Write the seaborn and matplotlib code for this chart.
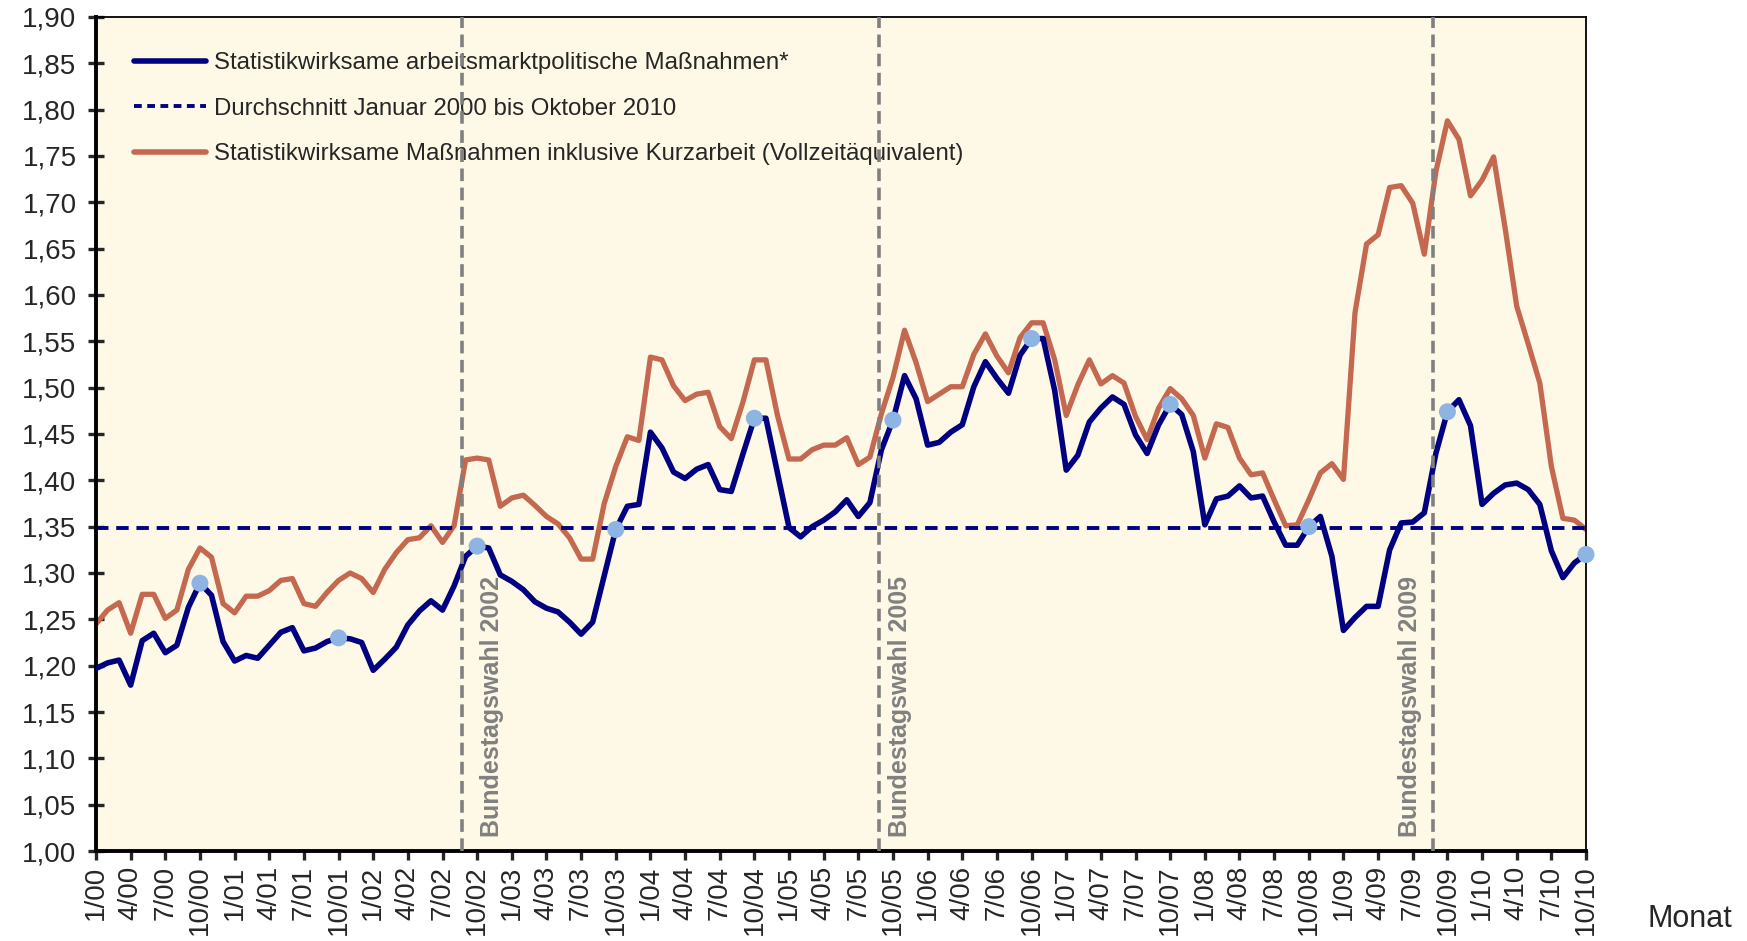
import numpy as np
import pandas as pd
import matplotlib
matplotlib.use("Agg")
import matplotlib.pyplot as plt
from matplotlib.ticker import MultipleLocator, FuncFormatter
from matplotlib.lines import Line2D
import seaborn as sns

# Monthly values Jan 2000 .. Oct 2010 (130 months)
massnahmen = [
    1.197, 1.203, 1.206, 1.179, 1.227, 1.235, 1.214, 1.222, 1.263, 1.289, 1.276, 1.226,
    1.205, 1.211, 1.208, 1.222, 1.236, 1.241, 1.216, 1.219, 1.226, 1.230, 1.229, 1.225,
    1.195, 1.207, 1.220, 1.244, 1.259, 1.270, 1.260, 1.286, 1.318, 1.329, 1.327, 1.298,
    1.291, 1.282, 1.269, 1.262, 1.258, 1.247, 1.234, 1.247, 1.297, 1.347, 1.372, 1.374,
    1.452, 1.435, 1.409, 1.402, 1.412, 1.417, 1.390, 1.388, 1.428, 1.467, 1.467, 1.408,
    1.349, 1.339, 1.350, 1.357, 1.366, 1.379, 1.361, 1.376, 1.433, 1.465, 1.513, 1.488,
    1.438, 1.441, 1.452, 1.460, 1.501, 1.528, 1.510, 1.494, 1.535, 1.553, 1.553, 1.497,
    1.411, 1.427, 1.463, 1.478, 1.490, 1.482, 1.449, 1.429, 1.460, 1.482, 1.471, 1.431,
    1.352, 1.380, 1.383, 1.394, 1.381, 1.383, 1.355, 1.330, 1.330, 1.350, 1.361, 1.318,
    1.238, 1.252, 1.264, 1.264, 1.325, 1.354, 1.355, 1.365, 1.429, 1.474, 1.487, 1.459,
    1.374, 1.386, 1.395, 1.397, 1.390, 1.374, 1.324, 1.295, 1.311, 1.320,
]
inkl_kurzarbeit = [
    1.245, 1.260, 1.268, 1.235, 1.277, 1.277, 1.251, 1.260, 1.304, 1.327, 1.317, 1.267,
    1.257, 1.275, 1.275, 1.281, 1.292, 1.294, 1.267, 1.264, 1.279, 1.292, 1.300, 1.294,
    1.279, 1.304, 1.322, 1.336, 1.338, 1.351, 1.333, 1.351, 1.422, 1.424, 1.422, 1.372,
    1.381, 1.384, 1.373, 1.361, 1.353, 1.338, 1.315, 1.315, 1.375, 1.415, 1.447, 1.443,
    1.533, 1.530, 1.502, 1.486, 1.493, 1.495, 1.458, 1.445, 1.484, 1.530, 1.530, 1.470,
    1.423, 1.423, 1.433, 1.438, 1.438, 1.446, 1.417, 1.425, 1.472, 1.511, 1.562, 1.527,
    1.485, 1.493, 1.501, 1.501, 1.536, 1.558, 1.534, 1.516, 1.554, 1.570, 1.570, 1.530,
    1.470, 1.503, 1.530, 1.504, 1.513, 1.505, 1.469, 1.444, 1.478, 1.499, 1.488, 1.470,
    1.424, 1.461, 1.457, 1.424, 1.406, 1.408, 1.379, 1.351, 1.352, 1.379, 1.408, 1.418,
    1.401, 1.581, 1.655, 1.665, 1.716, 1.718, 1.699, 1.644, 1.733, 1.788, 1.768, 1.707,
    1.724, 1.749, 1.672, 1.588, 1.547, 1.505, 1.415, 1.359, 1.357, 1.347,
]
durchschnitt = 1.349

years = list(range(0, 11))
tick_labels = [f"{m}/{y:02d}" for y in years for m in (1, 4, 7, 10)][:44]

# elections: line position (month index), label, text position
wahlen = [(31.7, "Bundestagswahl 2002"), (67.75, "Bundestagswahl 2005"), (115.75, "Bundestagswahl 2009")]
wahl_text_x = [34.3, 69.6, 113.8]

df = pd.DataFrame({
    "monat": np.arange(len(massnahmen)),
    "massnahmen": massnahmen,
    "kurzarbeit": inkl_kurzarbeit,
})
oktober = df[df["monat"] % 12 == 9]

sns.set_style("white")
plt.rcParams['font.family'] = ['Liberation Sans', 'DejaVu Sans']

navy = "#000080"
orange = "#C4694F"
fig = plt.figure(figsize=(17.47, 9.41), dpi=100)
ax = fig.add_axes([0.05495, 0.09564, 0.8529, 0.8863])
ax.set_facecolor("#FEF8E6")

sns.lineplot(data=df, x="monat", y="kurzarbeit", color=orange, linewidth=3.8, ax=ax, zorder=2)
ax.axhline(durchschnitt, color=navy, linewidth=2.8, dashes=(3.2, 2.0), zorder=2.5)
sns.lineplot(data=df, x="monat", y="massnahmen", color=navy, linewidth=4.0, ax=ax, zorder=3)
sns.scatterplot(data=oktober, x="monat", y="massnahmen", color="#8DB4E2", s=150,
                edgecolor="none", ax=ax, zorder=4, clip_on=False)

for (pos, lab), tx in zip(wahlen, wahl_text_x):
    ax.axvline(pos, color="#808080", linewidth=2.6, dashes=(3.5, 1.8), zorder=6)
    ax.text(tx, 1.015, lab, rotation=90, ha="center", va="bottom", color="#808080",
            fontsize=18, fontweight="bold")

ax.set_xlim(0, len(massnahmen) - 1)
ax.set_ylim(1.0, 1.9)
ax.yaxis.set_major_locator(MultipleLocator(0.05))
ax.yaxis.set_major_formatter(FuncFormatter(lambda v, p: f"{v:.2f}".replace(".", ",")))
ax.set_xticks(np.arange(0, len(massnahmen), 3))
ax.set_xticklabels(tick_labels, rotation=90)
ax.set_xlabel("")
ax.set_ylabel("")

ax.tick_params(axis="y", direction="inout", length=12, width=2.4, labelsize=20, pad=8, left=True)
ax.tick_params(axis="x", direction="out", length=6.5, width=2.4, labelsize=20, pad=4, bottom=True)
for side in ["left", "bottom"]:
    ax.spines[side].set_linewidth(2.8)
    ax.spines[side].set_color("black")
for side in ["top", "right"]:
    ax.spines[side].set_linewidth(1.3)
    ax.spines[side].set_color("black")

handles = [
    Line2D([], [], color=navy, linewidth=4.0),
    Line2D([], [], color=navy, linewidth=2.8, dashes=(2.0, 1.4)),
    Line2D([], [], color=orange, linewidth=4.0),
]
labels = [
    "Statistikwirksame arbeitsmarktpolitische Maßnahmen*",
    "Durchschnitt Januar 2000 bis Oktober 2010",
    "Statistikwirksame Maßnahmen inklusive Kurzarbeit (Vollzeitäquivalent)",
]
leg = ax.legend(handles, labels, loc="upper left", bbox_to_anchor=(0.0255, 0.958),
                frameon=False, fontsize=17.3, handlelength=3.0, handletextpad=0.35,
                labelspacing=0.98, borderpad=0, borderaxespad=0)
leg.set_zorder(1)

fig.text(0.9674, 0.0234, "Monat", ha="center", va="center", fontsize=22)

fig.savefig("out.png", dpi=100, facecolor="white")
